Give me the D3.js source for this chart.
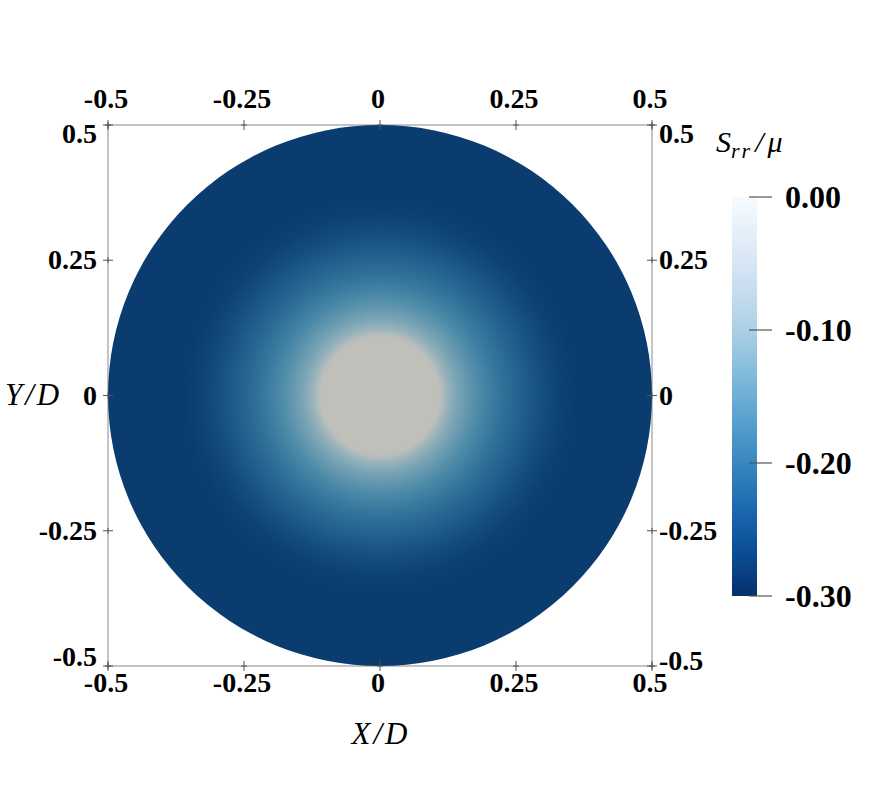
<!DOCTYPE html>
<html>
<head>
<meta charset="utf-8">
<script src="https://cdn.jsdelivr.net/npm/d3@7"></script>
<style>
  html, body { margin: 0; padding: 0; background: #fff; }
  svg { display: block; }
  .tick-label { font-family: "Liberation Serif", "Times New Roman", serif; font-weight: bold; font-size: 28px; fill: #000; }
  .cb-label { font-family: "Liberation Serif", "Times New Roman", serif; font-weight: bold; font-size: 32px; fill: #000; }
  .math { font-family: "Liberation Serif", "Times New Roman", serif; font-style: italic; fill: #000; }
</style>
</head>
<body>
<svg id="chart" width="872" height="794"></svg>
<script>
// ---- data ----
const xTickValues = [-0.5, -0.25, 0, 0.25, 0.5];
const xTickLabels = ["-0.5", "-0.25", "0", "0.25", "0.5"];
const yTickValues = [-0.5, -0.25, 0, 0.25, 0.5];
const yTickLabels = ["-0.5", "-0.25", "0", "0.25", "0.5"];
// radial profile of S_rr/mu (r in units of D)
const radius = [0, 0.10, 0.107, 0.113, 0.125, 0.145, 0.178, 0.208, 0.239, 0.27, 0.30, 0.331, 0.36, 0.5];
const srr    = [0.03, 0.005, 0.0, -0.015, -0.06, -0.11, -0.155, -0.19, -0.22, -0.245, -0.27, -0.29, -0.30, -0.30];
const cbTickValues = [0, -0.1, -0.2, -0.3];
const cbTickLabels = ["0.00", "-0.10", "-0.20", "-0.30"];
const cbDomain = [0, -0.3];

// ---- layout ----
const svg = d3.select("#chart");
const x = d3.scaleLinear().domain([-0.5, 0.5]).range([108, 652]);
const y = d3.scaleLinear().domain([-0.5, 0.5]).range([666, 125]);
const color = d3.scaleSequential(d3.interpolateBlues).domain(cbDomain);
// rendered (lit, muted) colours of the surface
const fieldScale = d3.scaleLinear()
  .domain([-0.30, -0.25, -0.20, -0.15, -0.10, -0.05, -0.02, 0])
  .range(["#0a3c6f", "#1c5889", "#34769c", "#5490aa", "#80a8b7", "#9db5bc", "#b3bcbd", "#c0c0ba"])
  .clamp(true);
const aboveColor = "rgb(192,192,186)";
function fieldColor(v) { return v > 0 ? aboveColor : fieldScale(v); }

const defs = svg.append("defs");
const rg = defs.append("radialGradient").attr("id", "field")
  .attr("cx", 0.5).attr("cy", 0.5).attr("r", 0.5);
radius.forEach((r, i) => {
  rg.append("stop").attr("offset", r / 0.5).attr("stop-color", fieldColor(srr[i]));
});

// frame
svg.append("rect")
  .attr("x", x(-0.5)).attr("y", y(0.5))
  .attr("width", x(0.5) - x(-0.5)).attr("height", y(-0.5) - y(0.5))
  .attr("fill", "none").attr("stroke", "#8a8a8a").attr("stroke-width", 1);

// field disk
svg.append("ellipse")
  .attr("cx", x(0)).attr("cy", y(0))
  .attr("rx", x(0.5) - x(0)).attr("ry", y(-0.5) - y(0))
  .attr("fill", "url(#field)");

// tick crosses
const tickG = svg.append("g").attr("stroke", "#555").attr("stroke-width", 1);
xTickValues.forEach(v => {
  [y(0.5), y(-0.5)].forEach(yy => {
    tickG.append("line").attr("x1", x(v)).attr("x2", x(v)).attr("y1", yy - 5).attr("y2", yy + 5);
    tickG.append("line").attr("x1", x(v) - 3).attr("x2", x(v) + 3).attr("y1", yy).attr("y2", yy);
  });
});
yTickValues.forEach(v => {
  [x(-0.5), x(0.5)].forEach(xx => {
    tickG.append("line").attr("y1", y(v)).attr("y2", y(v)).attr("x1", xx - 5).attr("x2", xx + 5);
    tickG.append("line").attr("y1", y(v) - 3).attr("y2", y(v) + 3).attr("x1", xx).attr("x2", xx);
  });
});

// x tick labels top and bottom
xTickValues.forEach((v, i) => {
  svg.append("text").attr("class", "tick-label").attr("text-anchor", "middle")
    .attr("x", x(v) - 2).attr("y", 108).text(xTickLabels[i]);
  svg.append("text").attr("class", "tick-label").attr("text-anchor", "middle")
    .attr("x", x(v) - 2).attr("y", 692).text(xTickLabels[i]);
});
// y tick labels left and right
yTickValues.forEach((v, i) => {
  let yy = y(v) + 9;
  if (v === 0.5) yy = y(v) + 18;
  if (v === -0.5) yy = y(v);
  svg.append("text").attr("class", "tick-label").attr("text-anchor", "end")
    .attr("x", 97).attr("y", yy).text(yTickLabels[i]);
  let yr = y(v) + 9;
  if (v === 0.5) yr = y(v) + 18;
  if (v === -0.5) yr = y(v) + 4;
  svg.append("text").attr("class", "tick-label").attr("text-anchor", "start")
    .attr("x", 659).attr("y", yr).text(yTickLabels[i]);
});

// axis titles
svg.append("text").attr("class", "math").attr("font-size", 31)
  .attr("x", 5).attr("y", 405).attr("letter-spacing", 3).text("Y/D");
svg.append("text").attr("class", "math").attr("font-size", 31)
  .attr("x", 381).attr("y", 744).attr("text-anchor", "middle").attr("letter-spacing", 3).text("X/D");

// colorbar
const cb = d3.scaleLinear().domain(cbDomain).range([197, 596]);
const lg = defs.append("linearGradient").attr("id", "cbgrad")
  .attr("x1", 0).attr("y1", 0).attr("x2", 0).attr("y2", 1);
d3.ticks(-0.3, 0, 30).reverse().forEach(v => {
  lg.append("stop").attr("offset", (cb(v) - cb(0)) / (cb(-0.3) - cb(0))).attr("stop-color", color(v));
});
svg.append("rect").attr("x", 732).attr("y", cb(0)).attr("width", 25)
  .attr("height", cb(-0.3) - cb(0)).attr("fill", "url(#cbgrad)");
cbTickValues.forEach((v, i) => {
  svg.append("line").attr("x1", 749).attr("x2", 772).attr("y1", cb(v)).attr("y2", cb(v))
    .attr("stroke", "#555").attr("stroke-width", 1.2);
  svg.append("text").attr("class", "cb-label").attr("x", 785).attr("y", cb(v) + 11).text(cbTickLabels[i]);
});

// colorbar title S_rr/mu
const title = svg.append("text").attr("class", "math").attr("font-size", 30).attr("x", 716).attr("y", 152);
title.append("tspan").text("S");
title.append("tspan").attr("font-size", 22).attr("dy", 6).attr("letter-spacing", 2).text("rr");
title.append("tspan").attr("dy", -6).attr("dx", 3).attr("letter-spacing", 4).text("/μ");
</script>
</body>
</html>
